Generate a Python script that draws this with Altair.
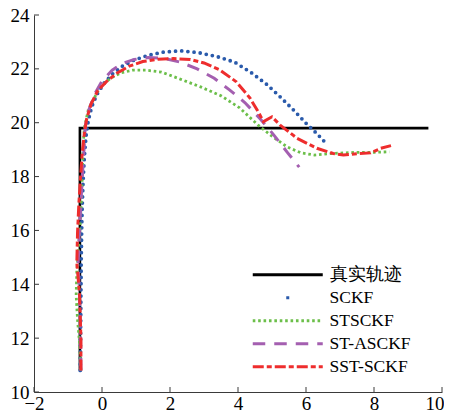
import altair as alt
import pandas as pd

series_names = ["真实轨迹", "SCKF", "STSCKF", "ST-ASCKF", "SST-SCKF"]
series_colors = ["#000000", "#2a5aab", "#6cbf4a", "#a45fb0", "#ee2d2d"]
series_dash = [[1, 0], [0, 33.5, 3, 1000], [2.6, 2.8], [12.5, 9], [11, 3, 5, 3]]

x_ticks = [-2, 0, 2, 4, 6, 8, 10]
y_ticks = [10, 12, 14, 16, 18, 20, 22, 24]

true_x = [-0.65, -0.65, 9.6]
true_y = [10.8, 19.8, 19.8]

sckf_x = [-0.64, -0.63, -0.62, -0.61, -0.59, -0.56, -0.52, -0.47, -0.40, -0.30, -0.15, 0.05, 0.30,
          0.60, 0.95, 1.35, 1.80, 2.30, 2.85, 3.40, 3.90, 4.40, 4.85, 5.25, 5.65, 6.00, 6.30, 6.60]
sckf_y = [10.8, 12.0, 13.5, 15.0, 16.5, 17.7, 18.7, 19.5, 20.1, 20.6, 21.05, 21.45, 21.8,
          22.1, 22.33, 22.5, 22.62, 22.67, 22.6, 22.45, 22.25, 21.85, 21.42, 20.95, 20.45, 19.98, 19.62, 19.22]

stsckf_x = [-0.62, -0.66, -0.72, -0.76, -0.74, -0.68, -0.62, -0.58, -0.56, -0.52, -0.40, -0.07, 0.25,
            0.55, 0.90, 1.30, 1.75, 2.30, 2.90, 3.50, 4.05, 4.60, 5.05, 5.45, 5.85, 6.25, 6.80, 7.50, 8.00, 8.45]
stsckf_y = [10.8, 11.8, 12.7, 13.6, 14.5, 15.5, 16.8, 18.0, 19.0, 19.8, 20.5, 21.3, 21.65,
            21.85, 21.95, 21.95, 21.88, 21.62, 21.33, 21.0, 20.55, 19.9, 19.45, 19.1, 18.88, 18.8, 18.86, 18.9, 18.9, 18.92]

stascfk_x = [-0.62, -0.63, -0.66, -0.70, -0.67, -0.62, -0.58, -0.53, -0.49, -0.38, -0.22, 0.00, 0.30,
             0.60, 0.95, 1.35, 1.80, 2.30, 2.80, 3.30, 3.75, 4.20, 4.65, 5.05, 5.45, 5.80]
stascfk_y = [10.8, 12.0, 13.5, 14.8, 15.8, 17.0, 18.0, 19.0, 19.9, 20.5, 21.05, 21.55, 21.95,
             22.2, 22.35, 22.42, 22.4, 22.25, 22.0, 21.65, 21.22, 20.75, 20.15, 19.55, 18.9, 18.35]

sstsckf_x = [-0.62, -0.62, -0.66, -0.74, -0.72, -0.68, -0.63, -0.58, -0.52, -0.45, -0.32, -0.12, 0.15,
             0.45, 0.80, 1.20, 1.65, 2.10, 2.60, 3.00, 3.45, 3.95, 4.35, 4.62, 4.75, 5.00, 5.24, 5.74,
             6.32, 6.80, 7.10, 7.50, 7.90, 8.20, 8.50]
sstsckf_y = [10.8, 12.0, 13.6, 14.8, 15.9, 17.0, 18.0, 18.9, 19.6, 20.15, 20.7, 21.2, 21.55,
             21.85, 22.1, 22.27, 22.36, 22.38, 22.35, 22.22, 21.97, 21.52, 20.92, 20.35, 20.04, 20.22, 19.91, 19.42,
             19.05, 18.86, 18.8, 18.85, 18.88, 19.05, 19.15]


def frame(name, xs, ys):
    return pd.DataFrame({"x": xs, "y": ys, "i": list(range(len(xs))), "series": name})


serif = "Liberation Serif"
axis_color = "#3a3a3a"

xscale = alt.Scale(domain=[-2, 10], nice=False, zero=False)
yscale = alt.Scale(domain=[10, 24], nice=False, zero=False)
color_scale = alt.Scale(domain=series_names, range=series_colors)
dash_scale = alt.Scale(domain=series_names, range=series_dash)

xaxis = alt.Axis(title=None, values=x_ticks, tickSize=0, labelPadding=2, grid=False,
                 domainColor=axis_color, labelFont=serif, labelFontSize=19, labelColor="black",
                 format="d", labelFlush=False,
                 labelAlign={"expr": "datum.value == 10 ? 'right' : 'center'"},
                 labelOffset={"expr": "datum.value == 10 ? 2 : 0"})
yaxis = alt.Axis(title=None, values=y_ticks, tickSize=0, labelPadding=5, grid=False,
                 domainColor=axis_color, labelFont=serif, labelFontSize=19, labelColor="black",
                 format="d", labelFlush=False)

legend = alt.Legend(title=None, orient="none", legendX=245, legendY=251,
                    symbolType="M-10,0H10", symbolSize=49, symbolStrokeWidth=3,
                    labelFont=serif, labelFontSize=17.5, labelColor="black",
                    labelOffset=33, rowPadding=4, padding=0, labelLimit=200)


def line_layer(df, width):
    return alt.Chart(df).mark_line(strokeWidth=width).encode(
        x=alt.X("x:Q", scale=xscale, axis=xaxis),
        y=alt.Y("y:Q", scale=yscale, axis=yaxis),
        order=alt.Order("i:Q"),
        color=alt.Color("series:N", scale=color_scale, legend=legend),
        strokeDash=alt.StrokeDash("series:N", scale=dash_scale, legend=legend),
    )


true_layer = line_layer(frame(series_names[0], true_x, true_y), 2.6)
sckf_layer = alt.Chart(frame(series_names[1], sckf_x, sckf_y)).mark_line(
    strokeWidth=3.8, strokeCap="round", strokeDash=[0, 6.2], color=series_colors[1]
).encode(
    x=alt.X("x:Q", scale=xscale, axis=xaxis),
    y=alt.Y("y:Q", scale=yscale, axis=yaxis),
    order=alt.Order("i:Q"),
)
st_layer = line_layer(frame(series_names[2], stsckf_x, stsckf_y), 2.8)
sta_layer = line_layer(frame(series_names[3], stascfk_x, stascfk_y), 3)
sst_layer = line_layer(frame(series_names[4], sstsckf_x, sstsckf_y), 3)

ytick_layer = alt.Chart(pd.DataFrame({"x": [0] * len(y_ticks), "y": y_ticks})).mark_rule(
    color=axis_color, strokeWidth=1
).encode(
    y=alt.Y("y:Q", scale=yscale, axis=yaxis),
    x=alt.value(0), x2=alt.value(5),
)
xtick_layer = alt.Chart(pd.DataFrame({"x": x_ticks, "y": [10] * len(x_ticks)})).mark_rule(
    color=axis_color, strokeWidth=1
).encode(
    x=alt.X("x:Q", scale=xscale, axis=xaxis),
    y=alt.value(377), y2=alt.value(372),
)

chart = alt.layer(
    ytick_layer, xtick_layer, true_layer, sckf_layer, st_layer, sta_layer, sst_layer
).properties(
    width=408, height=377,
    autosize=alt.AutoSizeParams(type="none"),
    padding={"left": 26, "top": 7, "right": 2, "bottom": 20},
).configure(
    background="white", font=serif
).configure_axis(
    labelFont=serif
).configure_legend(
    labelFont=serif
).configure_view(stroke=None)

chart.save("out.html", embed_options={"renderer": "svg", "actions": False})
